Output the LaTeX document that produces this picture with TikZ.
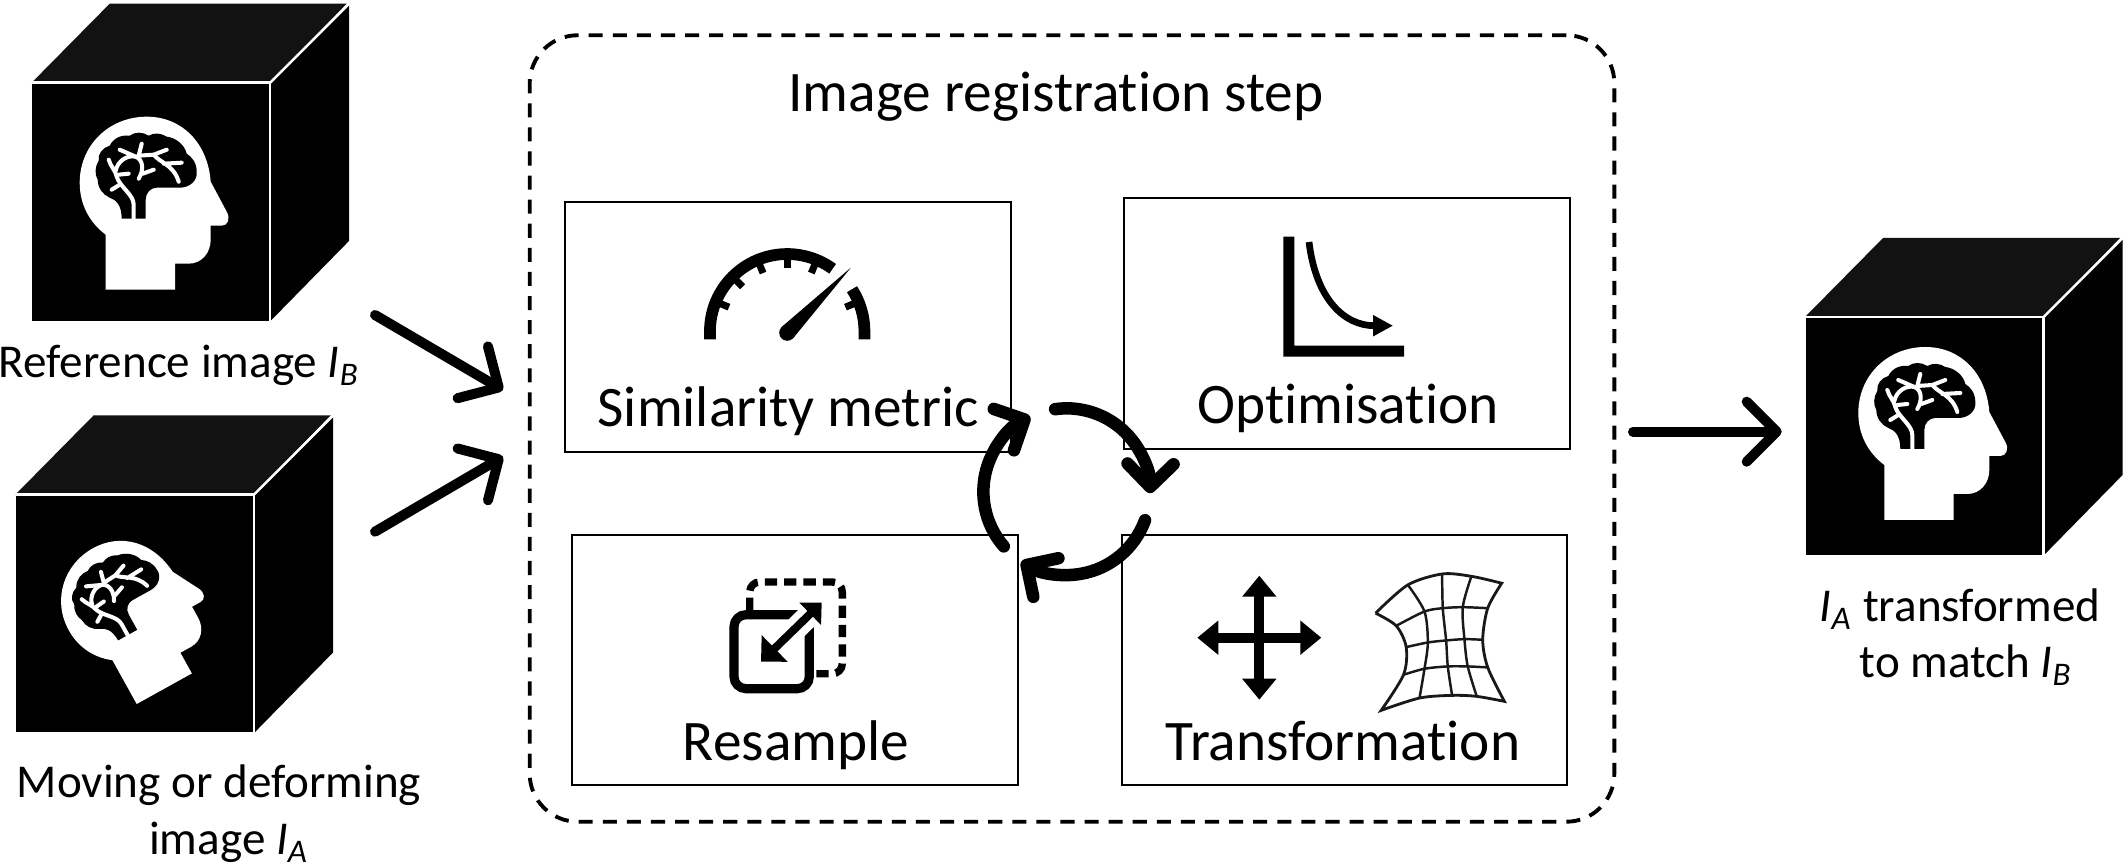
\documentclass[tikz,border=0pt]{standalone}
\usepackage{fontspec}
\setmainfont{Carlito}[Ligatures=NoCommon]
\usetikzlibrary{calc,arrows.meta,positioning}
\newcommand{\imgsym}[1]{\textit{I}\textsubscript{\textit{#1}}}
\tikzset{
    cubeface/.style={fill=black, inner sep=0pt, minimum size=2.37cm, anchor=north west},
    cubeedge/.style={white, line width=0.7pt},
    stepbox/.style={draw=black, line width=0.6pt, inner sep=0pt, minimum width=4.45cm, minimum height=2.5cm},
    regbox/.style={draw=black, line width=1.1pt, dash pattern=on 4pt off 2.85pt, rounded corners=0.48cm, inner sep=0pt, minimum width=10.84cm, minimum height=7.86cm},
    bigtext/.style={font=\fontsize{16.3pt}{16.2pt}\selectfont, inner sep=0pt, anchor=base},
    sidetext/.style={font=\fontsize{13.4pt}{16.2pt}\selectfont, inner sep=0pt, anchor=base},
    flowarrow/.style={line width=0.1cm, line cap=round, -{Straight Barb[round,length=0.3cm,width=0.6cm]}},
    cyclearrow/.style={line width=0.125cm, line cap=round, -{Straight Barb[round,length=0.23cm,width=0.46cm]}},
    headicon/.pic={
        \fill[white] (74,207) -- (143.3,207) -- (143.3,181) -- (157,181)
            .. controls (170,181) and (179,170) .. (179,157) -- (179,143) -- (190,143)
            .. controls (196,143) and (199,136) .. (195,129) -- (179,99)
            .. controls (176,60) and (150,34) .. (115,34)
            .. controls (78,34) and (48,62) .. (48,100)
            .. controls (48,122) and (58,140) .. (74,152) -- cycle;
        \fill[black] (90,136) -- (114,136) -- (114,117)
            .. controls (114,110) and (119,105) .. (125,105) -- (148,105)
            .. controls (158,105) and (166,98) .. (165,89)
            .. controls (165,80) and (160,74) .. (155,71)
            .. controls (153,62) and (144,55) .. (135,54)
            .. controls (129,50) and (122,50) .. (117,53)
            .. controls (111,49) and (103,49) .. (98,53)
            .. controls (90,52) and (82,55) .. (78,63)
            .. controls (71,65) and (66,71) .. (67,78)
            .. controls (63,84) and (63,92) .. (66,97)
            .. controls (66,105) and (71,112) .. (78,115)
            .. controls (84,117) and (90,122) .. (90,136) -- cycle;
        \draw[white, line width=1.15pt, line cap=round] (102,136) -- (102,122)
            .. controls (102,112) and (88,104) .. (85,94)
            .. controls (84,88) and (79,84) .. (77,77);
        \draw[white, line width=1.15pt, line cap=round] (84,88) .. controls (86,78) and (96,72) .. (104,74)
            .. controls (112,77) and (112,88) .. (107,96);
        \draw[white, line width=1.15pt, line cap=round] (88,67) -- (104,74)
            (110,61) -- (107,73) (107,73) -- (122,72)
            .. controls (128,80) and (142,82) .. (147,99)
            (122,72) -- (135,67) (132,81) -- (150,80)
            (87,92) -- (97,91) (111,91) -- (122,87) (80,107) -- (88,102);
    }
}
\begin{document}
\begin{tikzpicture}[x=0.01cm, y=-0.01cm]
    \useasboundingbox (0,0) rectangle (2128,868);
    % image cubes
    \foreach \v/\a/\b in {cubeRef/31.7/82.7, cubeMov/15.7/494.3, cubeOut/1805/317}
    {
        \node[cubeface] (\v) at (\a,\b) {};
        \fill[black!93] (\v.north west) -- ++(78,-79) -- ++(237,0) -- (\v.north east) -- cycle;
        \fill[black] (\v.north east) -- ++(79,-79) -- ++(0,237) -- (\v.south east) -- cycle;
        \draw[cubeedge] (\v.north west) -- (\v.north east) -- (\v.south east);
        \draw[cubeedge] (\v.north east) -- ++(79,-79);
    };
    \pic[shift={(31.7,82.7)}] {headicon};
    \pic[shift={(1810.3,313)}] {headicon};
    \pic[shift={(136.7,704)}, rotate=29, scale=0.91, shift={(-74,-207)}] {headicon};
    \node[sidetext] (refLabel) at (179,378) {Reference image \imgsym{B}};
    \node[sidetext] (movLabelA) at (219,798) {Moving or deforming};
    \node[sidetext] (movLabelB) at (229,855) {image \imgsym{A}};
    \node[sidetext] (outLabelA) at (1960,622) {\imgsym{A} transformed};
    \node[sidetext] (outLabelB) at (1966,678) {to match \imgsym{B}};
    % registration step
    \node[regbox] (regBox) at (1072,428.5) {};
    \node[bigtext] (regTitle) at (1056,112) {Image registration step};
    \foreach \v/\a/\b in {simBox/788/327, optBox/1347/323.5, resBox/795/660, traBox/1344.5/660}
    {
        \node[stepbox] (\v) at (\a,\b) {};
    };
    \foreach \v/\a/\b/\t in {simLabel/788/427/Similarity metric, optLabel/1348/424/Optimisation,
        resLabel/796/761/Resample, traLabel/1343/761/Transformation}
    {
        \node[bigtext] (\v) at (\a,\b) {\t};
    };
    % flow arrows
    \coordinate (refOut) at (375,315);
    \coordinate (refIn) at (503,390);
    \coordinate (movOut) at (375,531.7);
    \coordinate (movIn) at (503,456.7);
    \coordinate (regOut) at (1633,431.7);
    \coordinate (outIn) at (1781.7,431.7);
    \draw[flowarrow] (refOut) -- (refIn);
    \draw[flowarrow] (movOut) -- (movIn);
    \draw[flowarrow] (regOut) -- (outIn);
    % cycle
    \coordinate (cycleC) at (1066.7,491.7);
    \draw[cyclearrow] ($(cycleC)+(98:0.833cm)$) arc[start angle=98, end angle=-1, radius=0.833cm];
    \draw[cyclearrow] ($(cycleC)+(-20:0.833cm)$) arc[start angle=-20, end angle=-123, radius=0.833cm];
    \draw[cyclearrow] ($(cycleC)+(-139:0.833cm)$) arc[start angle=-139, end angle=-244, radius=0.833cm];
    % gauge
    \begin{scope}[shift={(787.2,331.3)}, x=1cm, y=1cm]
        \draw[line width=0.117cm] (-0.772,-0.08) -- (180:0.772) arc[start angle=180, end angle=54, radius=0.772cm];
        \draw[line width=0.117cm] (33:0.772) arc[start angle=33, end angle=0, radius=0.772cm] -- (0.772,-0.08);
        \foreach \a in {157.5,135,112.5,90,67.5,22.5}
        {
            \draw[line width=0.07cm] (\a:0.75) -- (\a:0.63);
        };
        \fill (45:0.9) -- (-0.057,0.042) -- (0.057,-0.072) -- cycle;
        \fill (0,-0.015) circle (0.08);
    \end{scope}
    % optimisation curve
    \fill (1283.3,236.7) -- (1294.3,236.7) -- (1294.3,345.7) -- (1404,345.7) -- (1404,356.7) -- (1283.3,356.7) -- cycle;
    \draw[line width=0.067cm, -{Triangle[length=0.2cm,width=0.2cm]}] (1309,242) .. controls (1316,300) and (1345,325.7) .. (1393,325.7);
    % resample icon
    \draw[line width=2.1pt, dash pattern=on 3.5pt off 2pt, rounded corners=0.1cm] (749.7,610) |- (842.3,582) |- (812,673.7);
    \draw[line width=2.6pt, rounded corners=0.12cm] (734,614.7) rectangle (809.3,688.7);
    \draw[white, line width=0.23cm] (825,600) -- (785,639);
    \draw[line width=0.08cm, {Triangle[length=0.19cm,width=0.36cm]}-{Triangle[length=0.16cm,width=0.3cm]}] (761,661.7) -- (821.7,602.7);
    % transformation icon
    \draw[line width=0.1cm, {Triangle[length=0.21cm,width=0.33cm]}-{Triangle[length=0.21cm,width=0.33cm]}] (1197.3,637.7) -- (1321.3,637.7);
    \draw[line width=0.1cm, {Triangle[length=0.21cm,width=0.33cm]}-{Triangle[length=0.21cm,width=0.33cm]}] (1259.3,575.7) -- (1259.3,699.7);
    \begin{scope}[shift={(1100,520)}, x=0.00333cm, y=-0.00333cm, line width=0.7pt, black!90]
        \draw[line width=0.8pt] plot[smooth] coordinates {(828,280) (925,195) (1030,162) (1120,170) (1207,190)}
            -- plot[smooth] coordinates {(1207,190) (1165,265) (1150,360) (1165,443) (1215,545)}
            -- plot[smooth] coordinates {(1215,545) (1132,530) (1058,527) (960,535) (845,572)}
            -- plot[smooth] coordinates {(845,572) (912,465) (920,382) (890,318) (828,280)};
        \draw plot[smooth] coordinates {(890,318) (975,275) (1030,265) (1090,262) (1165,265)};
        \draw plot[smooth] coordinates {(920,382) (985,368) (1040,362) (1095,358) (1150,360)};
        \draw plot[smooth] coordinates {(912,465) (975,447) (1045,440) (1105,440) (1165,443)};
        \draw plot[smooth] coordinates {(925,195) (975,275) (985,368) (975,447) (960,535)};
        \draw plot[smooth] coordinates {(1028,163) (1030,265) (1040,362) (1045,440) (1058,527)};
        \draw plot[smooth] coordinates {(1115,172) (1090,262) (1095,358) (1105,440) (1132,530)};
    \end{scope}
\end{tikzpicture}
\end{document}
